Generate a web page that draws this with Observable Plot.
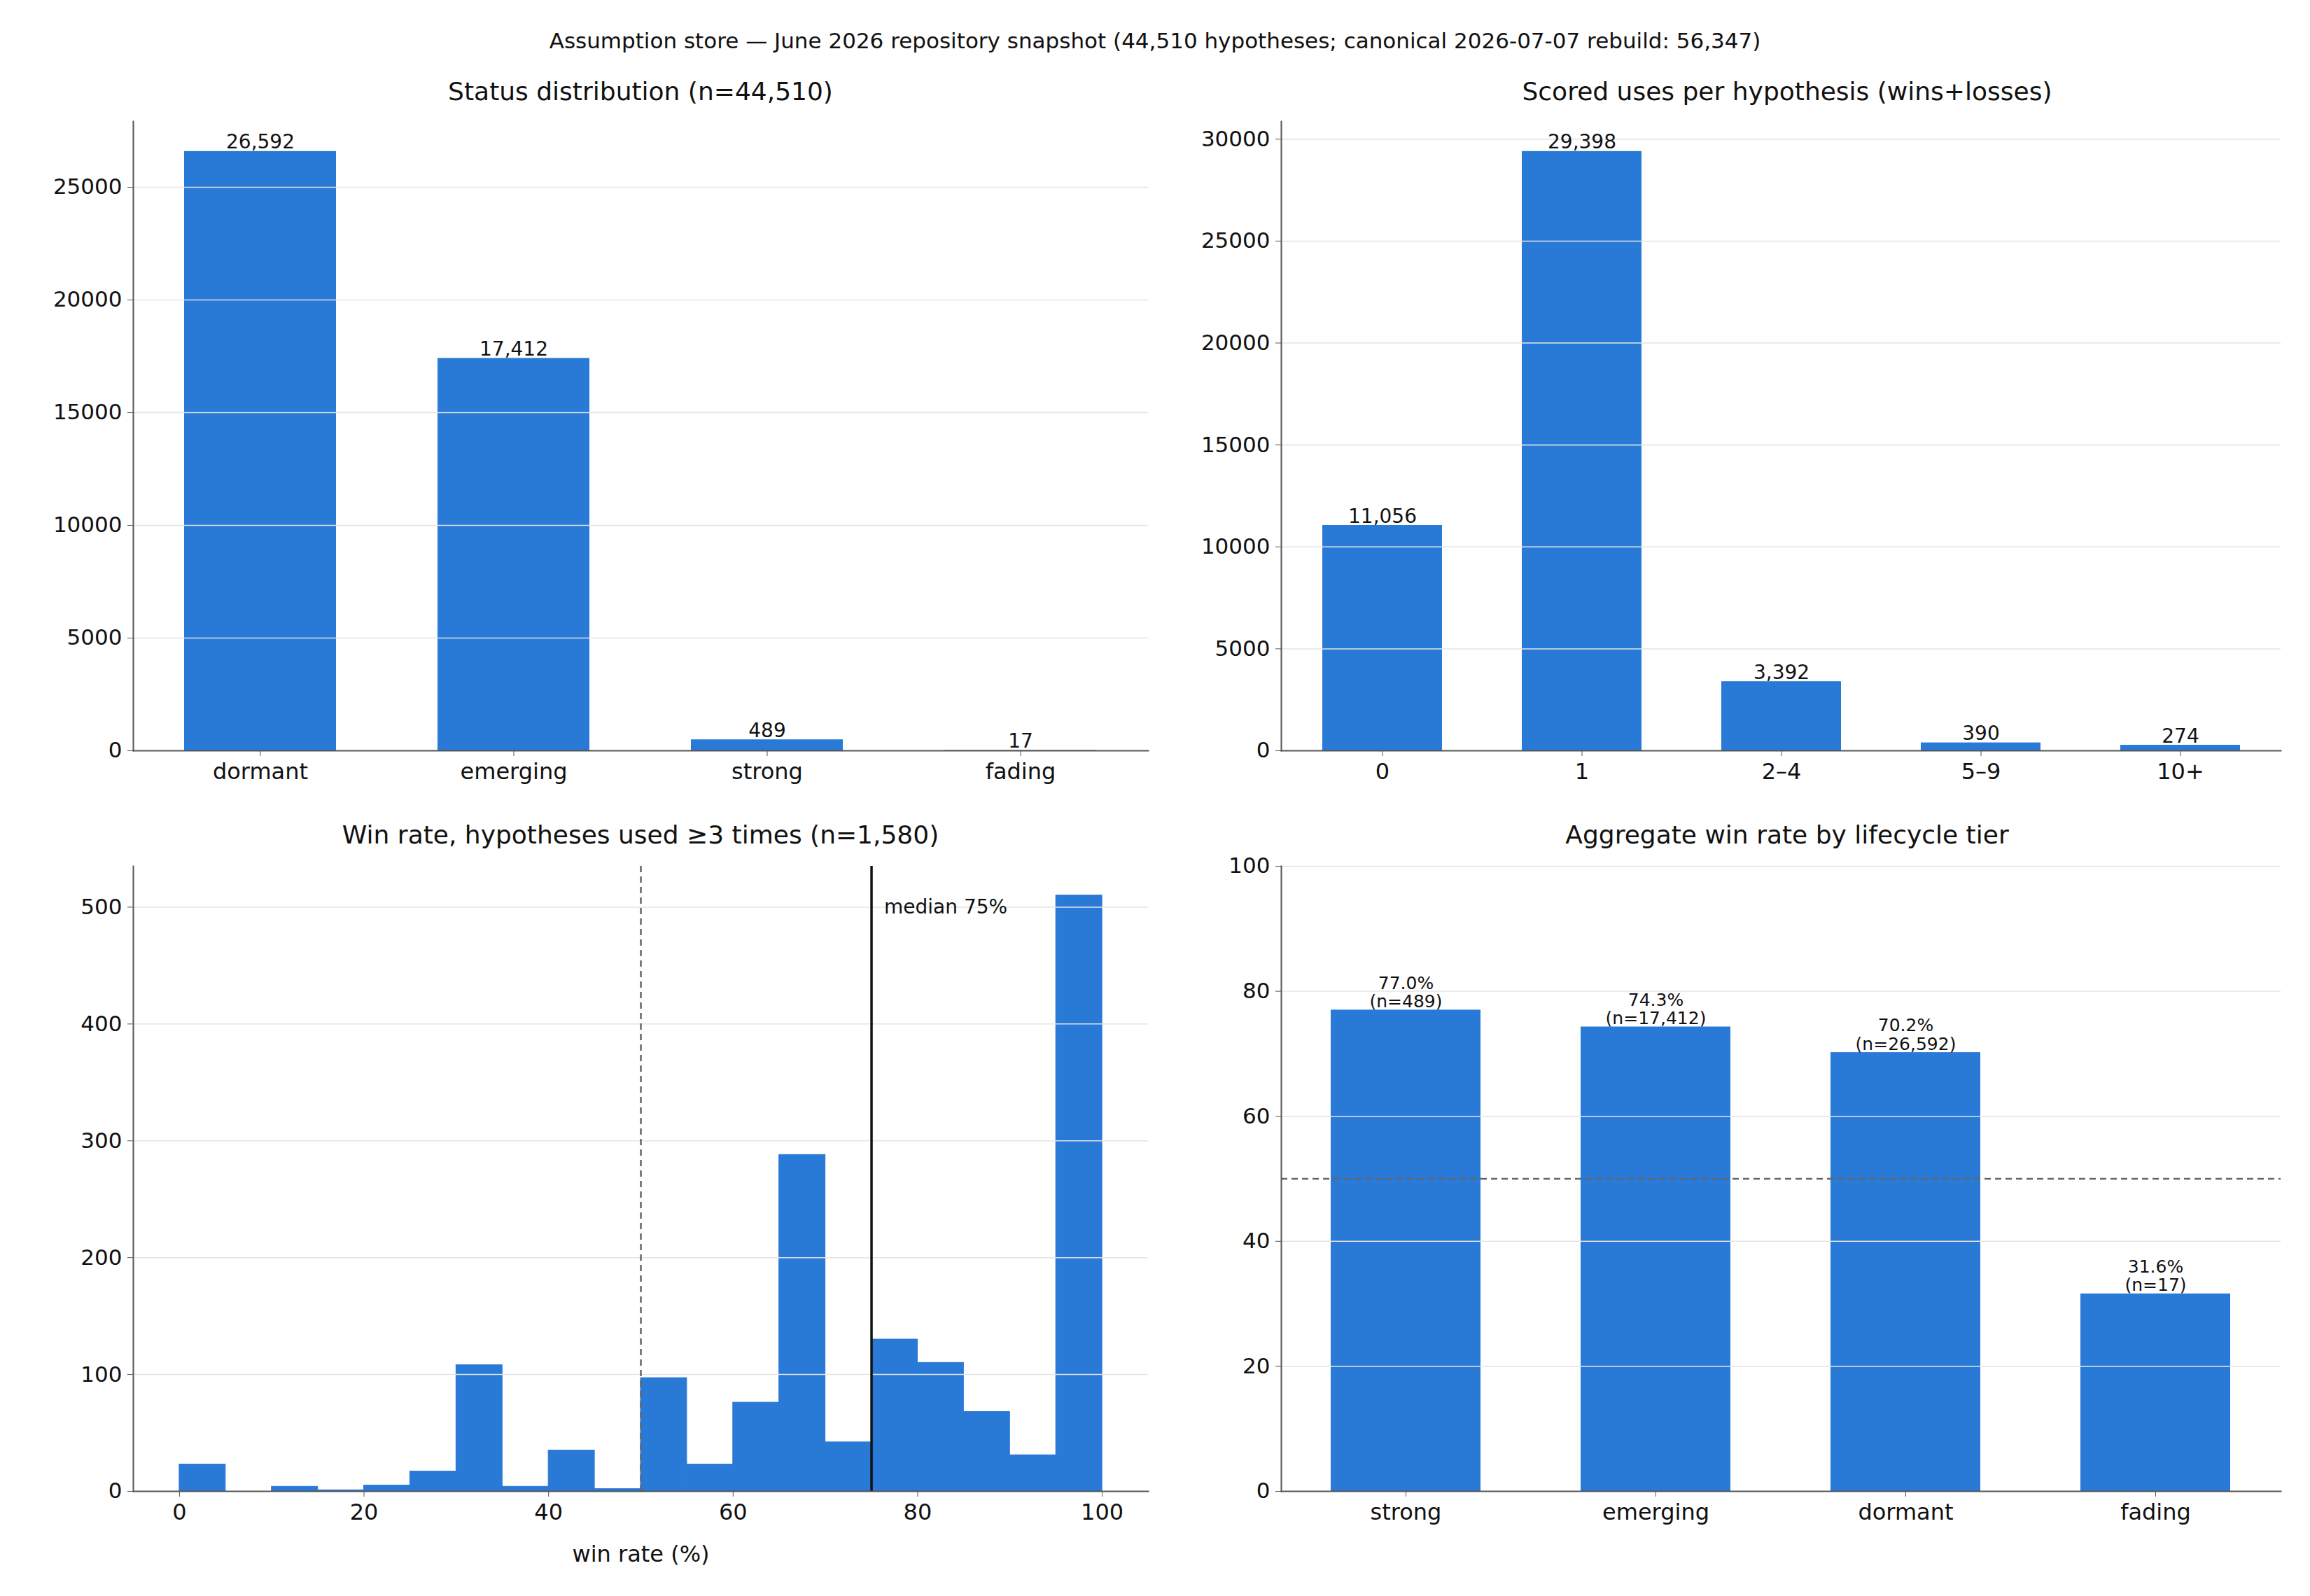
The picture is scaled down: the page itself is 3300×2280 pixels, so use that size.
<!DOCTYPE html>
<html><head><meta charset="utf-8">
<script src="https://cdn.jsdelivr.net/npm/d3@7"></script>
<script src="https://cdn.jsdelivr.net/npm/@observablehq/plot@0.6"></script>
<style>
body{margin:0;background:#fff;width:3300px;height:2280px;position:relative;font-family:"DejaVu Sans",sans-serif;color:#111}
.t{position:absolute;text-align:center;white-space:nowrap;transform:translateX(-50%)}
.p{position:absolute}
</style></head><body>
<script>
const statusCats=["dormant","emerging","strong","fading"];
const statusVals=[26592,17412,489,17];
const usesCats=["0","1","2–4","5–9","10+"];
const usesVals=[11056,29398,3392,390,274];
const binStarts=[0,5,10,15,20,25,30,35,40,45,50,55,60,65,70,75,80,85,90,95];
const binCounts=[23,0,4,1,5,17,108,4,35,2,97,23,76,288,42,130,110,68,31,510];
const tierCats=["strong","emerging","dormant","fading"];
const tierRates=[77.0,74.3,70.2,31.6];
const tierNs=["489","17,412","26,592","17"];
const median=75;

const BLUE="#2979d6", GRID="#e4e4e4", AX="#555";
const fmt=d3.format(",");
function place(el,left,top){el.classList.add("p");el.style.left=left+"px";el.style.top=top+"px";document.body.appendChild(el);}
function title(txt,x,y,size){const d=document.createElement("div");d.className="t";d.textContent=txt;d.style.left=x+"px";d.style.top=y+"px";d.style.fontSize=size+"px";document.body.appendChild(d);}
const base={marginLeft:120,marginRight:20,marginTop:10,marginBottom:80,style:{fontSize:"31px",fontFamily:"DejaVu Sans",color:"#111",background:"transparent",overflow:"visible"}};
function axes(yticks){return [
  Plot.axisY({ticks:yticks,tickFormat:d3.format("d"),tickSize:8,tickPadding:8,stroke:AX,fontSize:31}),
  Plot.frame({anchor:"left",stroke:AX,strokeWidth:2}),
  Plot.frame({anchor:"bottom",stroke:AX,strokeWidth:2})
];}
function barPanel(cats,vals,ymax,yticks,w,h,labels,labelSize,extra){
  const data=cats.map((c,i)=>({c,v:vals[i],l:labels[i]}));
  return Plot.plot({...base,width:w,height:h,
    x:{domain:cats,type:"band",paddingInner:0.4,paddingOuter:0.2,label:null},
    y:{domain:[0,ymax],label:null},
    marks:[
      Plot.barY(data,{x:"c",y:"v",fill:BLUE}),
      Plot.ruleY(yticks.filter(t=>t>0),{stroke:GRID,strokeWidth:1.5}),
      ...(extra||[]),
      Plot.text(data,{x:"c",y:"v",text:"l",dy:-4,lineAnchor:"bottom",fontSize:labelSize,lineHeight:1.05}),
      Plot.axisX({tickSize:8,tickPadding:10,stroke:AX,fontSize:32,label:null}),
      ...axes(yticks)
    ]});
}
const fs=36;
title("Assumption store — June 2026 repository snapshot (44,510 hypotheses; canonical 2026-07-07 rebuild: 56,347)",1650,40,31);
title("Status distribution (n=44,510)",915,110,fs);
place(barPanel(statusCats,statusVals,27921,[0,5000,10000,15000,20000,25000],1590,989,statusVals.map(fmt),28),70,163);
title("Scored uses per hypothesis (wins+losses)",2553,110,fs);
place(barPanel(usesCats,usesVals,30868,[0,5000,10000,15000,20000,25000,30000],1568,989,usesVals.map(fmt),28),1710,163);
title("Aggregate win rate by lifecycle tier",2553,1172,fs);
place(barPanel(tierCats,tierRates,100,[0,20,40,60,80,100],1568,983,
  tierRates.map((r,i)=>r.toFixed(1)+"%\n(n="+tierNs[i]+")"),25,
  [Plot.ruleY([50],{stroke:"#666",strokeWidth:2.5,strokeDasharray:"9,6"})]),1710,1227);
title("Win rate, hypotheses used ≥3 times (n=1,580)",915,1172,fs);
{
  const hd=binStarts.map((s,i)=>({x1:s,x2:s+5,y:binCounts[i]}));
  const yt=[0,100,200,300,400,500];
  const el=Plot.plot({...base,width:1590,height:1058,marginBottom:155,
    x:{domain:[-5,105],label:null},y:{domain:[0,535],label:null},
    marks:[
      Plot.rectY(hd,{x1:"x1",x2:"x2",y:"y",fill:BLUE,stroke:BLUE,strokeWidth:1,inset:0}),
      Plot.ruleY(yt.filter(t=>t>0),{stroke:GRID,strokeWidth:1.5}),
      Plot.ruleX([50],{stroke:"#666",strokeWidth:2.5,strokeDasharray:"9,6"}),
      Plot.ruleX([median],{stroke:"#111",strokeWidth:3.5}),
      Plot.text(["median 75%"],{x:median,y:500,dx:18,textAnchor:"start",fontSize:28}),
      Plot.axisX({ticks:[0,20,40,60,80,100],tickSize:8,tickPadding:10,stroke:AX,fontSize:32,label:"win rate (%)",labelAnchor:"center",labelArrow:"none",labelOffset:100}),
      ...axes(yt)
    ]});
  place(el,70,1227);
}
</script>
</body></html>
